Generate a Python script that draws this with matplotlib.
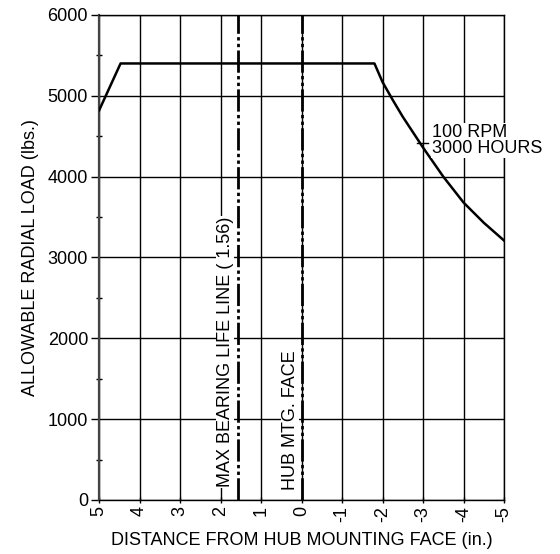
import matplotlib.pyplot as plt
from matplotlib.ticker import MultipleLocator

plt.rcParams['font.family'] = ['Liberation Sans', 'DejaVu Sans']
plt.rcParams['font.size'] = 13

# load curve (distance in inches, load in lbs)
dist = [5.0, 4.47, -1.8, -2.0, -2.25, -2.5, -3.0, -3.5, -4.0, -4.5, -5.0]
load = [4820, 5400, 5400, 5170, 4950, 4740, 4360, 4000, 3680, 3430, 3210]

# reference lines
max_life_x = 1.56
hub_face_x = 0.0

xticks = [5, 4, 3, 2, 1, 0, -1, -2, -3, -4, -5]
yticks = [0, 1000, 2000, 3000, 4000, 5000, 6000]

fig = plt.figure(figsize=(5.6, 5.54), dpi=100)
ax = fig.add_axes([0.177, 0.0975, 0.723, 0.8755])

ax.set_xlim(5, -5)
ax.set_ylim(0, 6000)
ax.set_xticks(xticks)
ax.set_xticklabels([str(t) for t in xticks], rotation=90)
ax.set_yticks(yticks)
ax.yaxis.set_minor_locator(MultipleLocator(500))
ax.tick_params(axis='y', which='major', direction='out', length=6, width=1, pad=2)
ax.tick_params(axis='y', which='minor', direction='inout', length=4, width=1)
ax.tick_params(axis='x', which='major', direction='inout', length=5, width=1, pad=2)
ax.grid(True, which='major', color='black', linewidth=1)
for s in ax.spines.values():
    s.set_linewidth(1)
ax.spines['left'].set_color('#444444')
ax.spines['left'].set_linewidth(1.6)

# vertical reference lines
pat = (8, 1.2, 1.2, 1.2, 1.2, 1.2)
ax.axvline(max_life_x, color='black', lw=2, dashes=pat, zorder=3)
ax.axvline(hub_face_x, color='black', lw=2, dashes=pat, zorder=3)

ax.text(1.89, 160, 'MAX BEARING LIFE LINE ( 1.56)', rotation=90,
        ha='center', va='bottom', zorder=4,
        bbox=dict(facecolor='white', edgecolor='none', pad=0.5))
ax.text(0.28, 120, 'HUB MTG. FACE', rotation=90,
        ha='center', va='bottom', zorder=4,
        bbox=dict(facecolor='white', edgecolor='none', pad=0.5))

# load curve
ax.plot(dist, load, color='black', lw=1.8, zorder=5)

# curve label
ax.plot([-2.85, -3.12], [4420, 4420], color='black', lw=1, zorder=5)
ax.text(-3.22, 4443, '100 RPM\n3000 HOURS', ha='left', va='center',
        linespacing=0.95, zorder=6, clip_on=False,
        bbox=dict(facecolor='white', edgecolor='none', pad=0.5))

ax.set_xlabel('DISTANCE FROM HUB MOUNTING FACE (in.)', labelpad=7)
ax.set_ylabel('ALLOWABLE RADIAL LOAD (lbs.)', labelpad=6)

plt.savefig('out.png')
